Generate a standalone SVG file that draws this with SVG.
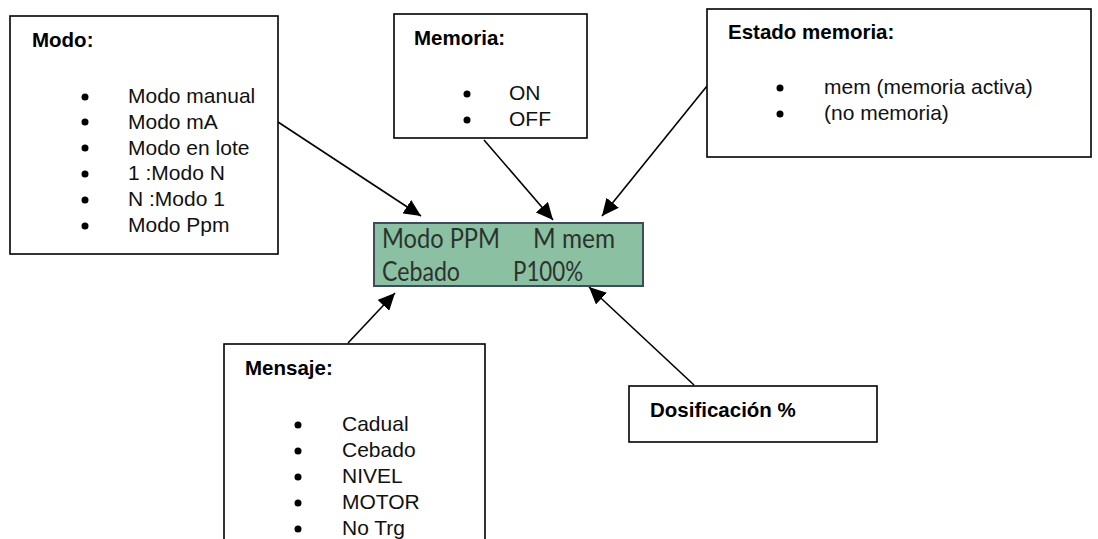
<svg xmlns="http://www.w3.org/2000/svg" width="1098" height="539" viewBox="0 0 1098 539">
<defs>
<marker id="arr" markerUnits="userSpaceOnUse" markerWidth="18" markerHeight="16" refX="17" refY="8" orient="auto">
<path d="M0,0 L17,8 L0,16 z" fill="#000"/>
</marker>
<style>
.box{fill:#fff;stroke:#000;stroke-width:1.6}
.t{font-family:"Liberation Sans",Arial,sans-serif;font-size:21px;fill:#111}
.b{font-family:"Liberation Sans",Arial,sans-serif;font-size:20.5px;font-weight:bold;fill:#000}
.lcd{font-family:Lato,"Open Sans",sans-serif;font-size:27px;fill:#2b332e}
.dot{fill:#000}
.c{stroke:#000;stroke-width:1.6;fill:none;marker-end:url(#arr)}
</style>
</defs>
<rect width="1098" height="539" fill="#fff"/>
<g id="connectors">
<line class="c" x1="278" y1="122" x2="421" y2="216"/>
<line class="c" x1="484" y1="140" x2="553" y2="220"/>
<line class="c" x1="707" y1="86" x2="602" y2="216"/>
<line class="c" x1="348" y1="343" x2="395" y2="293"/>
<line class="c" x1="694" y1="385" x2="589" y2="287"/>
</g>
<g id="modo">
<rect class="box" x="10" y="16" width="268" height="238"/>
<text class="b" x="32" y="47">Modo:</text>
<circle class="dot" cx="85" cy="97" r="3.5"/>
<circle class="dot" cx="85" cy="122" r="3.5"/>
<circle class="dot" cx="85" cy="148" r="3.5"/>
<circle class="dot" cx="85" cy="174" r="3.5"/>
<circle class="dot" cx="85" cy="200" r="3.5"/>
<circle class="dot" cx="85" cy="226" r="3.5"/>
<text class="t" x="128" y="103">Modo manual</text>
<text class="t" x="128" y="129">Modo mA</text>
<text class="t" x="128" y="155">Modo en lote</text>
<text class="t" x="128" y="180">1 :Modo N</text>
<text class="t" x="128" y="206">N :Modo 1</text>
<text class="t" x="128" y="232">Modo Ppm</text>
</g>
<g id="memoria">
<rect class="box" x="394" y="14" width="193" height="124"/>
<text class="b" x="414" y="45">Memoria:</text>
<circle class="dot" cx="467" cy="94" r="3.5"/>
<circle class="dot" cx="467" cy="120" r="3.5"/>
<text class="t" x="509" y="100">ON</text>
<text class="t" x="509" y="126">OFF</text>
</g>
<g id="estado">
<rect class="box" x="707" y="9" width="384" height="148"/>
<text class="b" x="728" y="39">Estado memoria:</text>
<circle class="dot" cx="780" cy="88" r="3.5"/>
<circle class="dot" cx="780" cy="114" r="3.5"/>
<text class="t" x="824" y="94">mem (memoria activa)</text>
<text class="t" x="824" y="120">(no memoria)</text>
</g>
<g id="lcd">
<rect x="374" y="223" width="269" height="63" fill="#8cc0a3" stroke="#3d4b5c" stroke-width="2"/>
<text class="lcd" x="382" y="248" textLength="118" lengthAdjust="spacingAndGlyphs">Modo PPM</text>
<text class="lcd" x="533" y="248" textLength="82" lengthAdjust="spacingAndGlyphs">M mem</text>
<text class="lcd" x="382" y="281" textLength="78" lengthAdjust="spacingAndGlyphs">Cebado</text>
<text class="lcd" x="513" y="281" textLength="70" lengthAdjust="spacingAndGlyphs">P100%</text>
</g>
<g id="mensaje">
<rect class="box" x="224" y="344" width="261" height="205"/>
<text class="b" x="245" y="375">Mensaje:</text>
<circle class="dot" cx="298" cy="425" r="3.5"/>
<circle class="dot" cx="298" cy="451" r="3.5"/>
<circle class="dot" cx="298" cy="477" r="3.5"/>
<circle class="dot" cx="298" cy="503" r="3.5"/>
<circle class="dot" cx="298" cy="529" r="3.5"/>
<text class="t" x="342" y="431">Cadual</text>
<text class="t" x="342" y="457">Cebado</text>
<text class="t" x="342" y="483">NIVEL</text>
<text class="t" x="342" y="509">MOTOR</text>
<text class="t" x="342" y="535">No Trg</text>
</g>
<g id="dosificacion">
<rect class="box" x="629" y="386" width="248" height="56"/>
<text class="b" x="650" y="417">Dosificación %</text>
</g>
</svg>
